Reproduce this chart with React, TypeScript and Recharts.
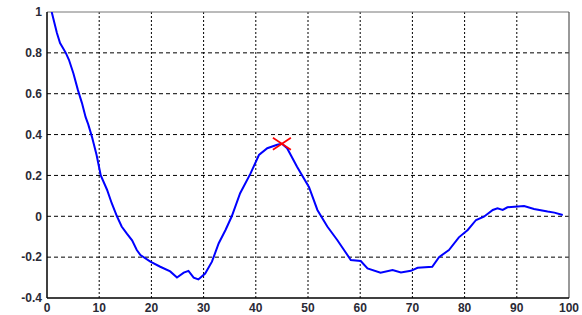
import {
  CartesianGrid,
  ComposedChart,
  Line,
  ReferenceLine,
  Scatter,
  XAxis,
  YAxis,
} from "recharts";

// lag values and the autocorrelation
const lags = [
  0.9, 1.9, 2.5, 3.6, 4.2, 5.05, 5.9, 6.7, 7.4, 7.9, 8.6, 9.5, 10.3, 11.5, 12.4,
  13.4, 14.3, 15.3, 16.3, 17.2, 17.9, 19.8, 21.7, 23.6, 24.9, 26.2, 27.1, 28.1,
  29, 30.3, 31.6, 32.9, 34.2, 35.4, 37, 39, 40.6, 42.2, 44.1, 45, 46, 47.9, 50.2,
  51.8, 53.7, 55.6, 56.9, 58.2, 60.1, 61.4, 63.9, 66.2, 67.8, 69.7, 71, 73.8,
  75.1, 77, 78.9, 80.6, 82.2, 83.7, 85.4, 86.3, 87.3, 88.2, 91.4, 93.3, 95.9,
  97.2, 98.8,
];
const acf = [
  1, 0.897, 0.848, 0.8, 0.766, 0.7, 0.62, 0.554, 0.485, 0.45, 0.39, 0.3, 0.2,
  0.13, 0.064, 0, -0.05, -0.085, -0.118, -0.165, -0.19, -0.222, -0.247, -0.27,
  -0.3, -0.276, -0.267, -0.3, -0.309, -0.28, -0.222, -0.132, -0.067, 0, 0.113,
  0.21, 0.3, 0.333, 0.35, 0.355, 0.333, 0.243, 0.142, 0.031, -0.05, -0.116,
  -0.165, -0.214, -0.219, -0.255, -0.276, -0.263, -0.275, -0.267, -0.252, -0.247,
  -0.2, -0.165, -0.103, -0.067, -0.018, -0.002, 0.031, 0.039, 0.031, 0.044, 0.05,
  0.036, 0.023, 0.018, 0.006,
];

// marked peak
const peakLag = [45];
const peakValue = [0.355];

const xTicks = [0, 10, 20, 30, 40, 50, 60, 70, 80, 90, 100];
const yTicks = [-0.4, -0.2, 0, 0.2, 0.4, 0.6, 0.8, 1];

const lineData = lags.map((x, i) => ({ x, y: acf[i] }));
const peakData = peakLag.map((x, i) => ({ x, y: peakValue[i] }));

const tickStyle = {
  fontSize: 12,
  fontWeight: 700,
  fill: "#2a2a36",
  fontFamily: "Arial, 'Liberation Sans', sans-serif",
};

const Cross = (props: any) => {
  const { cx, cy } = props;
  return (
    <g stroke="#ff0000" strokeWidth={1.6}>
      <line x1={cx - 9} y1={cy - 6} x2={cx + 9} y2={cy + 6} />
      <line x1={cx - 9} y1={cy + 6} x2={cx + 9} y2={cy - 6} />
    </g>
  );
};

export default function App() {
  return (
    <div style={{ position: "absolute", left: 0, top: 0, background: "#fff" }}>
      <ComposedChart
        width={582}
        height={315}
        margin={{ top: 12, right: 13, bottom: 0, left: 7 }}
      >
        <CartesianGrid
          vertical={false}
          horizontalValues={[-0.2, 0, 0.2, 0.4, 0.6, 0.8]}
          stroke="#000"
          strokeDasharray="4 3"
        />
        <CartesianGrid
          horizontal={false}
          verticalValues={[10, 20, 30, 40, 50, 60, 70, 80, 90]}
          stroke="#000"
          strokeDasharray="2 2"
        />
        <XAxis
          dataKey="x"
          type="number"
          domain={[0, 100]}
          ticks={xTicks}
          height={17}
          tickSize={0}
          tickMargin={5}
          tick={tickStyle}
          axisLine={{ stroke: "#000", strokeWidth: 1.5 }}
          allowDataOverflow
        />
        <YAxis
          dataKey="y"
          type="number"
          domain={[-0.4, 1]}
          ticks={yTicks}
          width={40}
          tickSize={0}
          tickMargin={5}
          tick={tickStyle}
          axisLine={{ stroke: "#000", strokeWidth: 1.5 }}
          allowDataOverflow
        />
        <ReferenceLine y={1} stroke="#777" strokeWidth={1} />
        <ReferenceLine x={100} stroke="#555" strokeWidth={1.2} />
        <Line
          data={lineData}
          dataKey="y"
          type="linear"
          stroke="#0000ff"
          strokeWidth={2}
          dot={false}
          isAnimationActive={false}
        />
        <Scatter
          data={peakData}
          dataKey="y"
          shape={Cross}
          isAnimationActive={false}
        />
      </ComposedChart>
    </div>
  );
}
